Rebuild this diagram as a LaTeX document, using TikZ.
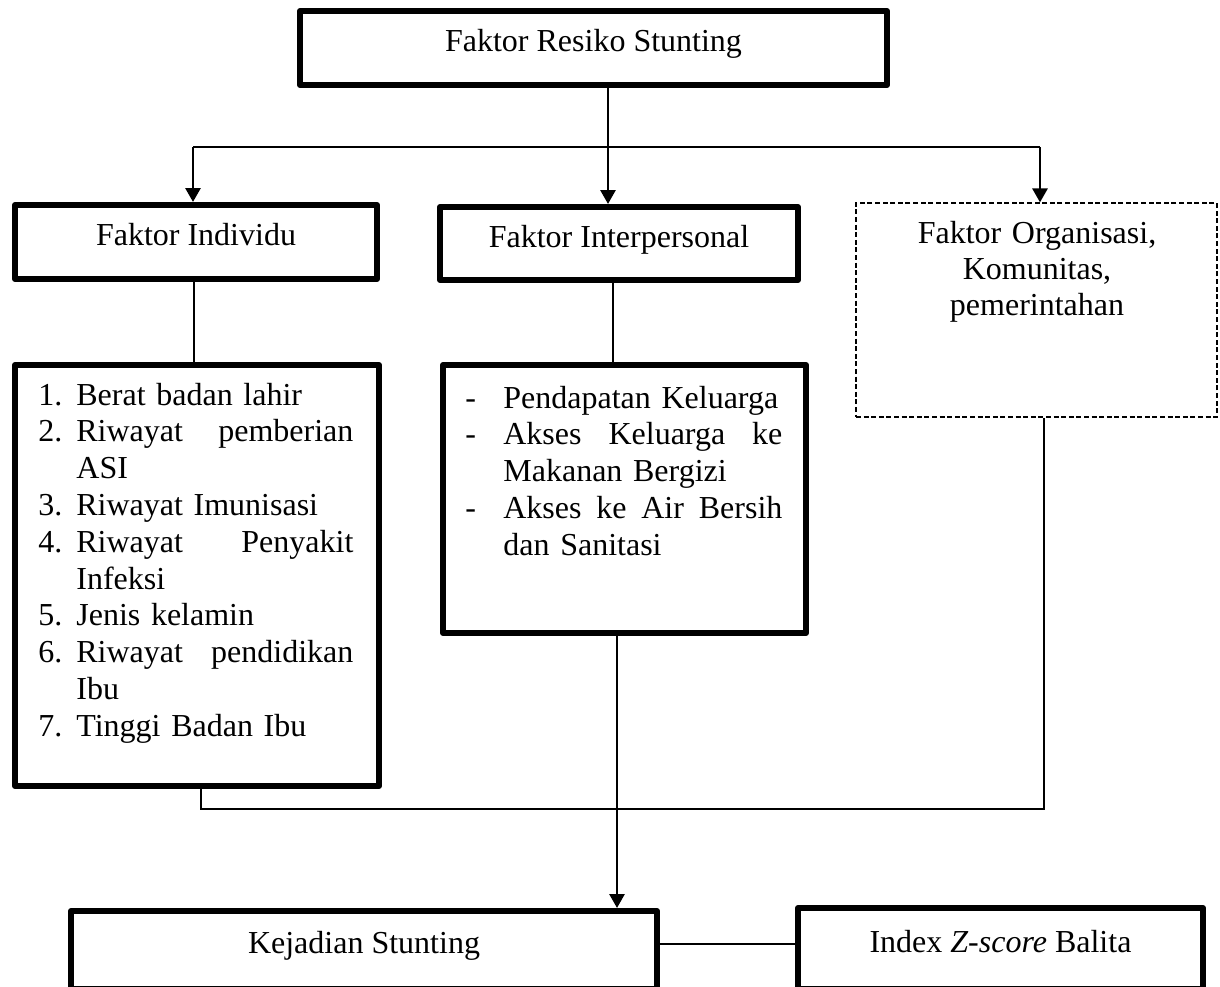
\documentclass[tikz,border=0pt]{standalone}
\usepackage{fontspec}
\setmainfont{Liberation Serif}
\usetikzlibrary{arrows.meta}
\newcommand{\fsz}{\fontsize{16pt}{18.4pt}\selectfont}
\newcommand{\fszo}{\fontsize{16pt}{18pt}\selectfont}
\begin{document}
\begin{tikzpicture}[x=0.5pt,y=-0.5pt,
  thickbox/.style={draw, line width=3pt, line join=round, inner sep=0pt, font=\fsz, text height=11pt, text depth=7.5pt},
  dashbox/.style={draw, line width=0.6pt, dash pattern=on 2.5pt off 1.3pt, inner sep=0pt},
  thinline/.style={line width=0.6pt},
  arrowline/.style={line width=1.4pt, -{Triangle[width=7.5pt,length=7pt]}},
  listtxt/.style={inner sep=0pt, font=\fsz, align=left, anchor=base west},
]
\useasboundingbox (0,0) rectangle (1220,986);

% boxes
\node[thickbox, minimum width=293.5pt, minimum height=37pt] (top) at (593.5,48) {Faktor Resiko Stunting};
\node[thickbox, minimum width=181pt, minimum height=37pt] (ind) at (196,242) {Faktor Individu};
\node[thickbox, minimum width=179pt, minimum height=36.5pt] (inter) at (619,243.5) {Faktor Interpersonal};
\node[dashbox, minimum width=180.5pt, minimum height=107pt] (org) at (1036.5,310) {};
\node[thickbox, minimum width=182pt, minimum height=210.5pt] (l1) at (197,575.5) {};
\node[thickbox, minimum width=181.5pt, minimum height=134pt] (l2) at (624.5,499) {};
\node[thickbox, minimum width=293pt, minimum height=39pt] (kej) at (364,950) {Kejadian Stunting};
\node[thickbox, minimum width=202.5pt, minimum height=40.5pt] (idx) at (1000.5,948.5) {Index \textit{Z-score} Balita};

% texts inside boxes
\node[listtxt, text width=158pt] (t1) at (38,405) {%
\makebox[19pt][l]{1.}Berat badan lahir\\
\makebox[19pt][l]{2.}\makebox[138.5pt]{Riwayat\hfill pemberian}\\
\hspace*{19pt}ASI\\
\makebox[19pt][l]{3.}Riwayat Imunisasi\\
\makebox[19pt][l]{4.}\makebox[138.5pt]{Riwayat\hfill Penyakit}\\
\hspace*{19pt}Infeksi\\
\makebox[19pt][l]{5.}Jenis kelamin\\
\makebox[19pt][l]{6.}\makebox[138.5pt]{Riwayat\hfill pendidikan}\\
\hspace*{19pt}Ibu\\
\makebox[19pt][l]{7.}Tinggi Badan Ibu};

\node[listtxt, text width=160pt] (t2) at (465,408) {%
\makebox[19pt][l]{-}Pendapatan Keluarga\\
\makebox[19pt][l]{-}\makebox[139.5pt]{Akses\hfill Keluarga\hfill ke}\\
\hspace*{19pt}Makanan Bergizi\\
\makebox[19pt][l]{-}\makebox[139.5pt]{Akses\hfill ke\hfill Air\hfill Bersih}\\
\hspace*{19pt}dan Sanitasi};

\node[inner sep=0pt, font=\fszo, text width=175pt, align=center, anchor=base] (t3) at (1037,243) {Faktor Organisasi,\\ Komunitas,\\ pemerintahan};

% connectors
\coordinate (jl) at (193,147);
\coordinate (jr) at (1040,147);
\coordinate (jm) at (608,147);
\draw[thinline] (jl) -- (jr);
\draw[arrowline] (jl) -- (jl |- ind.north);
\draw[arrowline] (jm |- top.south) -- (jm |- inter.north);
\draw[arrowline] (jr) -- (jr |- org.north);

\coordinate (c1) at (194,320);
\draw[thinline] (c1 |- ind.south) -- (c1 |- l1.north);
\coordinate (c2) at (613,320);
\draw[thinline] (c2 |- inter.south) -- (c2 |- l2.north);

\coordinate (b1) at (201,809);
\coordinate (b2) at (1044,809);
\draw[thinline] (b1 |- l1.south) -- (b1) -- (b2) -- (b2 |- org.south);

\coordinate (c3) at (617,700);
\draw[arrowline] (c3 |- l2.south) -- (c3 |- kej.north);

\coordinate (c4) at (700,944);
\draw[thinline] (c4 -| kej.east) -- (c4 -| idx.west);
\end{tikzpicture}
\end{document}
